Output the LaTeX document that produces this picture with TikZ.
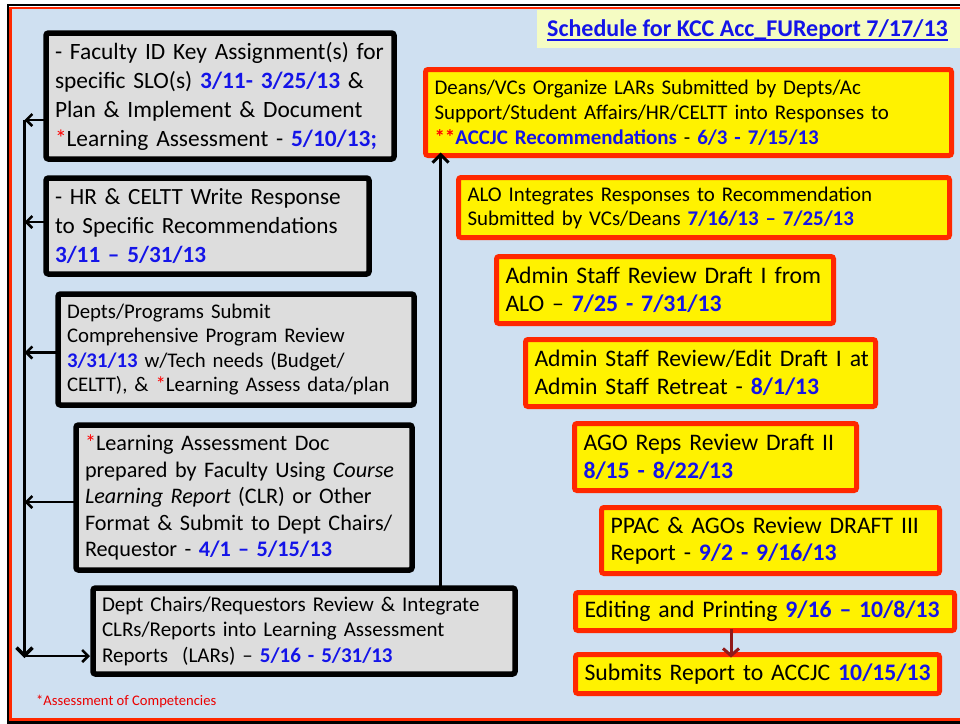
\documentclass[tikz,border=0pt]{standalone}
\usepackage{fontspec}
\setmainfont{Carlito}
\usetikzlibrary{arrows.meta,backgrounds}
\definecolor{bgblue}{RGB}{207,224,241}
\definecolor{boxgray}{RGB}{221,221,221}
\definecolor{bred}{RGB}{255,40,0}
\definecolor{dblue}{RGB}{20,20,232}
\definecolor{darkred}{RGB}{145,25,25}
\definecolor{titlebg}{RGB}{245,252,195}
\newcommand\dt[1]{\textbf{\textcolor{dblue}{#1}}}
\newcommand\rst[1]{\textcolor{red}{#1}}
\newcommand\LL[1]{\mbox{#1}}
\newcommand\bx[7]{\node[#2, minimum width={(#5-#3)*1pt}, minimum height={(#6-#4)*1pt}, text width={(#5-#3)*1pt-18pt}] (#1) at ({(#3+#5)/2},{(#4+#6)/2}) {#7};}
\tikzset{
  lbox/.style={draw=black, line width=5.5pt, fill=boxgray, rounded corners=2.5pt, align=left, inner xsep=0pt, inner ysep=0pt, outer sep=0pt},
  rbox/.style={draw=bred, line width=5pt, fill=yellow, rounded corners=2.5pt, align=left, inner xsep=0pt, inner ysep=0pt, outer sep=0pt},
  larrow/.style={line width=2.5pt, -{Straight Barb[length=6pt,width=12pt,line width=2.5pt]}},
  downarrow/.style={line width=3pt, -{Straight Barb[length=8pt,width=16pt,line width=3.5pt]}},
  uparrow/.style={line width=3pt, -{Straight Barb[length=8pt,width=16pt,line width=3pt]}},
  conn/.style={line width=3pt, draw=darkred},
  connarrow/.style={line width=3pt, draw=darkred, -{Straight Barb[length=7pt,width=16pt,line width=3pt]}},
}
\begin{document}
\begin{tikzpicture}[x=1pt,y=-1pt]
\useasboundingbox (0,0) rectangle (960,723);
\fill[white] (0,0) rectangle (960,723);
\fill[bgblue] (10,7) rectangle (975,720);
\draw[black, line width=2.5pt] (8.2,5.2) rectangle (980,722.5);
\draw[bred, line width=2.5pt] (10.7,8) rectangle (976,719.5);
% title
\fill[titlebg] (537,9.5) rectangle (960,47.5);
\node[inner sep=0pt, font=\fontsize{24}{28}\selectfont\bfseries, text=dblue] (title) at (747.5,30) {Schedule for KCC Acc\_FUReport 7/17/13};
\draw[dblue, line width=1.4pt] ([yshift=-3.5pt]title.base west) -- ([yshift=-3.5pt]title.base east);
% left boxes
\bx{b1}{lbox,font=\fontsize{23.4}{29}\selectfont}{46}{33}{394}{159}{\LL{- Faculty ID Key Assignment(s) for}\\ \LL{specific SLO(s) \dt{3/11- 3/25/13} \&}\\ \LL{Plan \& Implement \& Document}\\ \LL{\rst{*}Learning Assessment - \dt{5/10/13;}}}
\bx{b2}{lbox,font=\fontsize{23.2}{29}\selectfont}{46}{178}{369}{274}{\LL{- HR \& CELTT Write Response}\\ \LL{to Specific Recommendations}\\ \LL{\dt{3/11 – 5/31/13}}}
\bx{b3}{lbox,font=\fontsize{20.8}{24.5}\selectfont}{58}{294}{414}{405}{\LL{Depts/Programs Submit}\\ \LL{Comprehensive Program Review}\\ \LL{\dt{3/31/13} w/Tech needs (Budget/}\\ \LL{CELTT), \& \rst{*}Learning Assess data/plan}}
\bx{b4}{lbox,font=\fontsize{22.2}{26.5}\selectfont}{76}{425}{412}{570}{\LL{\rst{*}Learning Assessment Doc}\\ \LL{prepared by Faculty Using \textit{Course}}\\ \LL{\textit{Learning Report} (CLR) or Other}\\ \LL{Format \& Submit to Dept Chairs/}\\ \LL{Requestor - \dt{4/1 – 5/15/13}}}
\bx{b5}{lbox,font=\fontsize{21}{25.5}\selectfont}{93}{588}{515}{674}{\LL{Dept Chairs/Requestors Review \& Integrate}\\ \LL{CLRs/Reports into Learning Assessment}\\ \LL{Reports\ \ (LARs) – \dt{5/16 - 5/31/13}}}
% right boxes
\bx{r1}{rbox,font=\fontsize{20.9}{25}\selectfont}{425.5}{69.5}{951.5}{155.5}{\LL{Deans/VCs Organize LARs Submitted by Depts/Ac}\\ \LL{Support/Student Affairs/HR/CELTT into Responses to}\\ \LL{\rst{\textbf{**}}\dt{ACCJC Recommendations} - \dt{6/3 - 7/15/13}}}
\bx{r2}{rbox,font=\fontsize{20.9}{24}\selectfont}{458.5}{177.5}{949.5}{237.5}{\LL{ALO Integrates Responses to Recommendation}\\ \LL{Submitted by VCs/Deans \dt{7/16/13 – 7/25/13}}}
\bx{r3}{rbox,font=\fontsize{23.7}{28}\selectfont}{496.5}{256.5}{833.5}{323.5}{\LL{Admin Staff Review Draft I from}\\ \LL{ALO – \dt{7/25 - 7/31/13}}}
\bx{r4}{rbox,font=\fontsize{23.7}{27.5}\selectfont}{525.5}{339.5}{875.5}{406.5}{\LL{Admin Staff Review/Edit Draft I at}\\ \LL{Admin Staff Retreat - \dt{8/1/13}}}
\bx{r5}{rbox,font=\fontsize{23.7}{27.5}\selectfont}{574.5}{423.5}{856.5}{490.5}{\LL{AGO Reps Review Draft II}\\ \LL{\dt{8/15 - 8/22/13}}}
\bx{r6}{rbox,font=\fontsize{23.7}{27.5}\selectfont}{601.5}{507.5}{939.5}{573.5}{\LL{PPAC \& AGOs Review DRAFT III}\\ \LL{Report - \dt{9/2 - 9/16/13}}}
\bx{r7}{rbox,font=\fontsize{23.7}{27.5}\selectfont}{575.5}{592.5}{954.5}{630.5}{\LL{Editing and Printing \dt{9/16 – 10/8/13}}}
\bx{r8}{rbox,font=\fontsize{23.7}{27.5}\selectfont}{575.5}{654.5}{939.5}{693.5}{\LL{Submits Report to ACCJC \dt{10/15/13}}}
% right chain
\coordinate (cx) at (731,0);
\begin{scope}[on background layer]
\draw[conn] (r1.south -| cx) -- (r2.north -| cx);
\draw[conn] (r2.south -| cx) -- (r3.north -| cx);
\draw[conn] (r3.south -| cx) -- (r4.north -| cx);
\draw[conn] (r4.south -| cx) -- (r5.north -| cx);
\draw[conn] (r5.south -| cx) -- (r6.north -| cx);
\draw[conn] (r6.south -| cx) -- (r7.north -| cx);
\end{scope}
\draw[connarrow] ([yshift=2pt]r7.south -| cx) -- ([yshift=-3pt]r8.north -| cx);
% left line
\coordinate (ltop) at (24.5,120);
\coordinate (lbot) at (24.5,656);
\draw[line width=2.5pt] (ltop) -- ([yshift=-1pt]lbot);
\draw[downarrow] (ltop) -- ([yshift=-2pt]lbot);
\draw[larrow] ([yshift=-24pt]b1.west) -- ([yshift=-24pt]b1.west -| ltop);
\draw[larrow] ([yshift=4pt]b2.west) -- ([yshift=4pt]b2.west -| ltop);
\draw[larrow] ([yshift=-3pt]b3.west) -- ([yshift=-3pt]b3.west -| ltop);
\draw[larrow] ([yshift=-4.5pt]b4.west) -- ([yshift=-4.5pt]b4.west -| ltop);
\draw[larrow] (lbot) -- ([xshift=-3pt]b5.west |- lbot);
% up arrow
\coordinate (ux) at (440.5,0);
\draw[uparrow] ([yshift=-2pt]b5.north -| ux) -- ([yshift=3pt]r1.south -| ux);
% footnote
\node[anchor=base west, inner sep=0pt, font=\fontsize{14.6}{16}\selectfont, text=red!92!black] (fn) at (36,705) {*Assessment of Competencies};
\end{tikzpicture}
\end{document}
